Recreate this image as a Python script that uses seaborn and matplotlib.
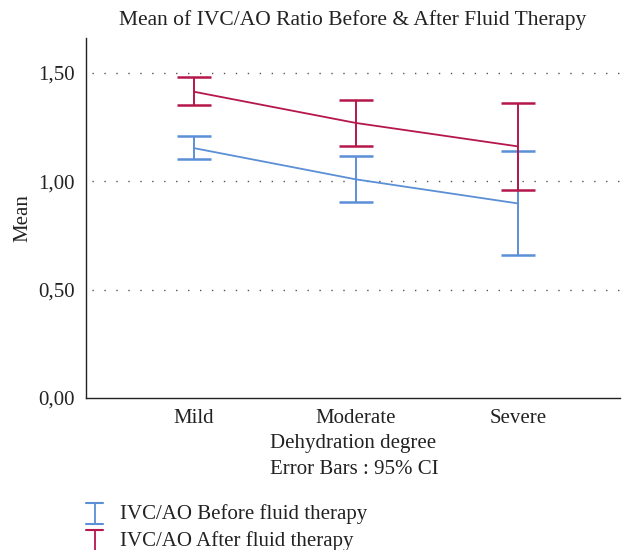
import numpy as np
import pandas as pd
import matplotlib
matplotlib.use("Agg")
import matplotlib.pyplot as plt
import seaborn as sns
from matplotlib.legend_handler import HandlerBase
from matplotlib.lines import Line2D
from matplotlib.ticker import FuncFormatter

# --- Data ---
degrees = ["Mild", "Moderate", "Severe"]
before_mean = [1.152, 1.008, 0.897]
before_low = [1.101, 0.905, 0.657]
before_high = [1.209, 1.118, 1.137]
after_mean = [1.412, 1.268, 1.160]
after_low = [1.349, 1.160, 0.957]
after_high = [1.481, 1.375, 1.361]

series_names = ["IVC/AO Before fluid therapy", "IVC/AO After fluid therapy"]
blue = "#5b8fd6"
red = "#b5174b"
txt = "#222222"
fs = 15

df = pd.DataFrame({
    "degree": degrees * 2,
    "mean": before_mean + after_mean,
    "series": [series_names[0]] * 3 + [series_names[1]] * 3,
})

sns.set_style("white")
plt.rcParams["font.family"] = ["Liberation Serif", "DejaVu Serif"]

fig = plt.figure(figsize=(6.23, 5.5), dpi=100)
ax = fig.add_axes([0.138, 0.2764, 0.857, 0.6546])

sns.pointplot(data=df, x="degree", y="mean", hue="series", order=degrees,
              palette=[blue, red], markers="", errorbar=None, linewidth=1.3,
              legend=False, ax=ax)

# --- error bars from the CI arrays ---
pos = np.arange(len(degrees))
for m, lo, hi, c in [(before_mean, before_low, before_high, blue),
                     (after_mean, after_low, after_high, red)]:
    m = np.array(m)
    yerr = [m - np.array(lo), np.array(hi) - m]
    ax.errorbar(pos, m, yerr=yerr, fmt="none", ecolor=c, elinewidth=1.4,
                capsize=12.2, capthick=1.8, zorder=3)

ax.set_xlim(-0.667, 2.63)
ax.set_ylim(0, 1.66)
ax.set_yticks([0, 0.5, 1.0, 1.5])
ax.yaxis.set_major_formatter(FuncFormatter(lambda v, p: f"{v:.2f}".replace(".", ",")))
for yv in [0.5, 1.0, 1.5]:
    ax.axhline(yv, color="#555555", linestyle=(4.3, (1, 7.6)), linewidth=1.0, zorder=0)

for s in ["top", "right"]:
    ax.spines[s].set_visible(False)
for s in ["left", "bottom"]:
    ax.spines[s].set_color(txt)
    ax.spines[s].set_linewidth(1.0)
ax.tick_params(axis="both", length=0, labelsize=fs, colors=txt, pad=8)

ax.set_title("Mean of IVC/AO Ratio Before & After Fluid Therapy",
             fontsize=15.5, color=txt, pad=9)
ax.set_xlabel("Dehydration degree", fontsize=fs, color=txt, labelpad=4)
ax.set_ylabel("Mean", fontsize=fs, color=txt, labelpad=4)
fig.text(0.569, 0.147, "Error Bars : 95% CI", ha="center", va="center",
         fontsize=fs, color=txt)


# --- legend with error-bar glyphs ---
class ErrHandler(HandlerBase):
    def __init__(self, full):
        super().__init__()
        self.full = full

    def create_artists(self, legend, orig, xd, yd, width, height, fontsize, trans):
        c = orig.get_color()
        cx = xd + width / 2
        half = 6
        top = yd + height + 1
        bot = yd - 4
        arts = [Line2D([cx, cx], [bot, top], color=c, lw=1.3, transform=trans),
                Line2D([cx - half, cx + half], [top, top], color=c, lw=1.5, transform=trans)]
        if self.full:
            arts.append(Line2D([cx - half, cx + half], [bot, bot], color=c, lw=1.5,
                               transform=trans))
        return arts


h1 = Line2D([], [], color=blue)
h2 = Line2D([], [], color=red)
fig.legend([h1, h2], series_names, loc="upper left", bbox_to_anchor=(0.135, 0.084),
           frameon=False, fontsize=fs, handlelength=1.0, handletextpad=0.72,
           labelspacing=0.35, borderaxespad=0, borderpad=0,
           handler_map={h1: ErrHandler(True), h2: ErrHandler(False)},
           labelcolor=txt)

fig.savefig("out.png", dpi=100)
